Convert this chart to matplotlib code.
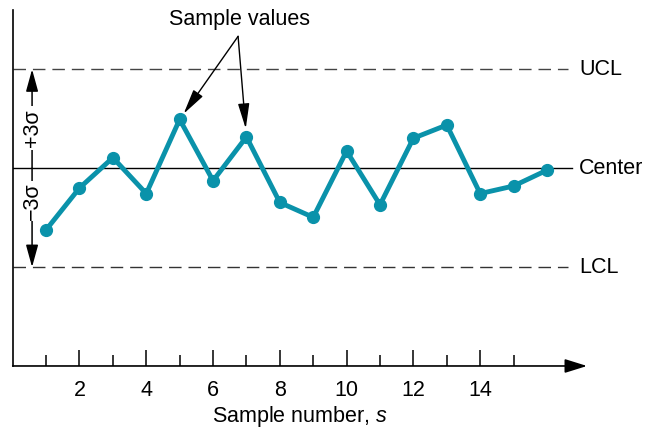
import matplotlib
matplotlib.use("Agg")
import matplotlib.pyplot as plt

plt.rcParams['font.family'] = ['Liberation Sans', 'DejaVu Sans']
plt.rcParams['mathtext.fontset'] = 'custom'
plt.rcParams['mathtext.rm'] = 'Liberation Sans'
plt.rcParams['mathtext.it'] = 'Liberation Sans:italic'

# data (in sigma units, center = 0)
samples = list(range(1, 17))
values = [-1.87, -0.60, 0.32, -0.77, 1.48, -0.38, 0.95, -1.04,
          -1.49, 0.52, -1.11, 0.91, 1.31, -0.77, -0.54, -0.06]
ucl, center, lcl = 3.0, 0.0, -3.0
major_ticks = [2, 4, 6, 8, 10, 12, 14]
minor_ticks = [1, 3, 5, 7, 9, 11, 13, 15]
limit_labels = ['UCL', 'Center', 'LCL']

teal = '#0A92AA'

fig = plt.figure(figsize=(6.48, 4.28), dpi=100)
ax = fig.add_axes([0.0196, 0.1449, 0.8863, 0.8318])
ax.set_xlim(0, 17.2)
ax.set_ylim(-6.0, 4.8)

for side in ['top', 'right', 'bottom']:
    ax.spines[side].set_visible(False)
ax.spines['left'].set_linewidth(1.2)
ax.set_yticks([])

# x axis with arrow
ax.annotate('', xy=(17.2, -6.0), xytext=(0, -6.0),
            arrowprops=dict(arrowstyle='-|>,head_length=0.8,head_width=0.25',
                            mutation_scale=17, lw=1.2, color='black',
                            shrinkA=0, shrinkB=0),
            annotation_clip=False)

ax.set_xticks(major_ticks)
ax.set_xticks(minor_ticks, minor=True)
ax.tick_params(axis='x', which='major', direction='in', length=11.5, width=1.1,
               pad=10, labelsize=15.5)
ax.tick_params(axis='x', which='minor', direction='in', length=8, width=1.1)
fig.text(0.463, 0.014, 'Sample number, $s$', fontsize=15.5,
         ha='center', va='baseline')

# control limits
line_end = 16.63
ax.plot([0, line_end], [ucl, ucl], color='#444444', lw=1.0, dashes=(9, 5))
ax.plot([0, line_end], [lcl, lcl], color='#333333', lw=1.0, dashes=(9, 5))
ax.plot([0, 16.75], [center, center], color='black', lw=1.0)
for lab, yv in zip(limit_labels, [ucl, center, lcl]):
    ax.text(16.96, yv, lab, fontsize=15.5, ha='left', va='center', clip_on=False)

# +/- 3 sigma arrows
sx = 0.58
for yv in [ucl, lcl]:
    ax.annotate('', xy=(sx, yv), xytext=(sx, center),
                arrowprops=dict(arrowstyle='-|>,head_length=0.8,head_width=0.22',
                                mutation_scale=17, lw=1.1, color='black',
                                shrinkA=0, shrinkB=0))
ax.text(sx, 1.22, '+3σ', rotation=90, fontsize=15.5, ha='center', va='center',
        bbox=dict(facecolor='white', edgecolor='none', pad=2.5))
ax.text(sx, -0.99, '−3σ', rotation=90, fontsize=15.5, ha='center', va='center',
        bbox=dict(facecolor='white', edgecolor='none', pad=1.0))

# sample values
ax.plot(samples, values, color=teal, lw=3.5, marker='o', markersize=8.5,
        solid_joinstyle='miter', zorder=3)

# annotation
ax.text(6.79, 4.50, 'Sample values', fontsize=15.5, ha='center', va='center')
apex = (6.75, 4.0)
for idx, sb in [(4, 5), (6, 6)]:
    ax.annotate('', xy=(samples[idx], values[idx]), xytext=apex,
                arrowprops=dict(arrowstyle='-|>,head_length=1.1,head_width=0.25',
                                mutation_scale=14, lw=1.0, color='black',
                                shrinkA=0, shrinkB=sb), zorder=4)

fig.savefig('out.png', dpi=100)
